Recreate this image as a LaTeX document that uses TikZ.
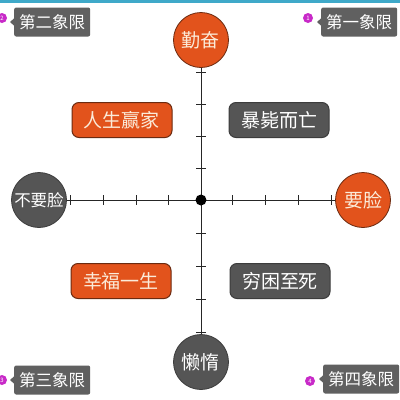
\documentclass[tikz,border=0pt]{standalone}
\usepackage{fontspec}
\setmainfont{Noto Sans CJK SC}
\usetikzlibrary{arrows.meta, calc, positioning}

\definecolor{juhong}{HTML}{E2531C}
\definecolor{juhongbian}{HTML}{6B2A10}
\definecolor{shenhui}{HTML}{555555}
\definecolor{biaohui}{HTML}{606060}
\definecolor{zihong}{HTML}{C82AC8}
\definecolor{qinglan}{HTML}{3FA9C9}
\definecolor{mise}{HTML}{FBEBD9}

\tikzset{
  quan/.style={circle, minimum size=55pt, inner sep=0pt, line width=0.8pt},
  quanhong/.style={quan, fill=juhong, draw=juhongbian, text=mise},
  quanhui/.style={quan, fill=shenhui, draw=shenhui!70!black, text=white},
  kuang/.style={rectangle, rounded corners=7pt, minimum width=100pt, minimum height=35pt,
    inner sep=0pt, line width=1pt, font=\fontsize{19}{19}\selectfont},
  kuanghong/.style={kuang, fill=juhong, draw=juhongbian, text=mise},
  kuanghui/.style={kuang, fill=shenhui, draw=shenhui!70!black, text=white},
  xiang/.style={rectangle, rounded corners=2pt, fill=biaohui, text=white, inner xsep=5pt,
    minimum height=29pt, inner ysep=0pt, anchor=west, font=\fontsize{16.5}{16.5}\selectfont},
  hao/.style={circle, fill=zihong, text=white, minimum size=10pt, inner sep=0pt,
    font=\fontsize{6}{6}\selectfont},
  kedu/.style={line width=0.8pt, black!85}
}

\begin{document}
\begin{tikzpicture}[x=1pt, y=-1pt]
    \useasboundingbox (0,0) rectangle (400,400);
    \fill[white] (0,0) rectangle (400,400);
    \fill[qinglan] (0,0) rectangle (400,2.5);

    % 四个端点
    \node[quanhong, font=\fontsize{19}{19}\selectfont] (qin) at (201,40) {勤奋};
    \node[quanhui, font=\fontsize{19}{19}\selectfont] (lan) at (201,362) {懒惰};
    \node[quanhui, font=\fontsize{16.5}{16.5}\selectfont] (bu) at (39,200) {不要脸};
    \node[quanhong, font=\fontsize{19}{19}\selectfont] (yao) at (363,200) {要脸};

    % 坐标轴
    \draw[kedu] (qin) -- (lan);
    \draw[kedu] (bu) -- (yao);
    \foreach \t in {72,104,136,168,233,266,299,332}
        \draw[kedu] (196,\t) -- (206,\t);
    \foreach \t in {70,103,136,168,232,265,298,331}
        \draw[kedu] (\t,195) -- (\t,205);
    \node[circle, fill=black, minimum size=11pt, inner sep=0pt] (o) at (201,200) {};

    % 四个结果
    \node[kuanghong] (ying) at (122,120) {人生赢家};
    \node[kuanghui] (bao) at (279,120) {暴毙而亡};
    \node[kuanghong] (xing) at (121,281) {幸福一生};
    \node[kuanghui] (qiong) at (280,281) {穷困至死};

    % 象限标签
    \node[xiang] (x2) at (14,22) {第二象限};
    \node[xiang] (x1) at (321,22) {第一象限};
    \node[xiang] (x3) at (14,380) {第三象限};
    \node[xiang] (x4) at (323,379) {第四象限};
    \foreach \n in {x1,x2,x3,x4}
        \fill[biaohui] ($(\n.west)+(0.5,-4)$) -- ($(\n.west)+(-4,0)$) -- ($(\n.west)+(0.5,4)$) -- cycle;
    \node[hao] (h2) at (2,18) {2};
    \node[hao] (h1) at (308,18) {1};
    \node[hao] (h3) at (2,380) {3};
    \node[hao] (h4) at (310,381) {4};
\end{tikzpicture}
\end{document}
